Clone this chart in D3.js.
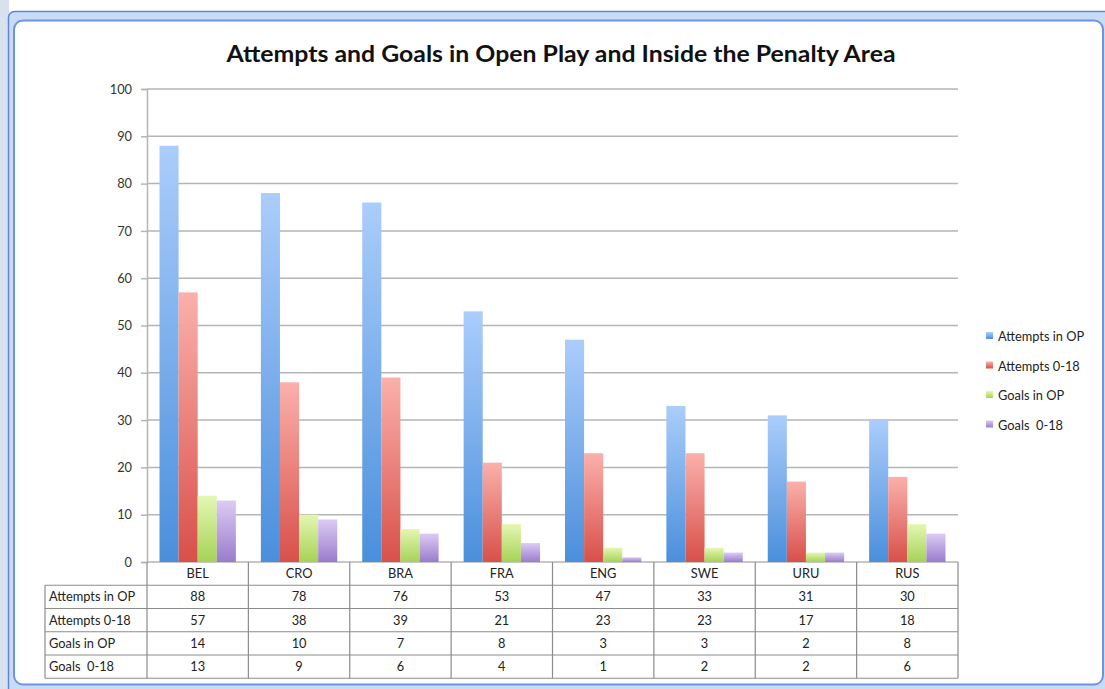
<!DOCTYPE html>
<html>
<head>
<meta charset="utf-8">
<script src="https://cdn.jsdelivr.net/npm/d3@7"></script>
<style>
  body { margin: 0; background: #fff; }
  text { font-family: Lato, "Open Sans", sans-serif; fill: #222; white-space: pre; }
</style>
</head>
<body>
<div class="chart"></div>
<script>
// data
var categories = ["BEL", "CRO", "BRA", "FRA", "ENG", "SWE", "URU", "RUS"];
var seriesNames = ["Attempts in OP", "Attempts 0-18", "Goals in OP", "Goals  0-18"];
var attemptsOP = [88, 78, 76, 53, 47, 33, 31, 30];
var attempts018 = [57, 38, 39, 21, 23, 23, 17, 18];
var goalsOP = [14, 10, 7, 8, 3, 3, 2, 8];
var goals018 = [13, 9, 6, 4, 1, 2, 2, 6];
var yTicks = [0, 10, 20, 30, 40, 50, 60, 70, 80, 90, 100];

var seriesValues = [attemptsOP, attempts018, goalsOP, goals018];
// gradient colours per series: top (light) -> bottom (dark)
var colors = [
  ["#abcdfb", "#4a8fdc"],
  ["#fbb0ab", "#d8504a"],
  ["#e4f7b2", "#a6d257"],
  ["#dccbf5", "#9a7ccb"]
];

var svgWidth = 1105, svgHeight = 689;
var plot = { left: 147, right: 958, top: 89, bottom: 562 };
var tableLeft = 45;
var rowH = 23.25;
var fs = 12.8;

var svg = d3.select(".chart").append("svg")
  .attr("width", svgWidth)
  .attr("height", svgHeight);

// spreadsheet frame behind the chart
svg.append("rect").attr("x", 0).attr("y", 0).attr("width", 9).attr("height", svgHeight).attr("fill", "#d8e2ef");
svg.append("rect")
  .attr("x", 8.5).attr("y", 11.5).attr("width", 1110).attr("height", 700)
  .attr("rx", 6)
  .attr("fill", "#c9dcf7").attr("stroke", "#5e86d8").attr("stroke-width", 1.5);
svg.append("rect")
  .attr("x", 14).attr("y", 20.5).attr("width", 1089).attr("height", 664)
  .attr("rx", 9)
  .attr("fill", "#fff").attr("stroke", "#6f93dc").attr("stroke-width", 2);

// gradients
var defs = svg.append("defs");
colors.forEach(function(c, i) {
  var g = defs.append("linearGradient")
    .attr("id", "grad" + i)
    .attr("x1", 0).attr("y1", 0).attr("x2", 0).attr("y2", 1);
  g.append("stop").attr("offset", "0%").attr("stop-color", c[0]);
  g.append("stop").attr("offset", "100%").attr("stop-color", c[1]);
});

// title
svg.append("text")
  .attr("x", 561)
  .attr("y", 62)
  .attr("text-anchor", "middle")
  .attr("font-size", 23)
  .attr("font-weight", "bold")
  .attr("textLength", 669)
  .attr("lengthAdjust", "spacingAndGlyphs")
  .style("fill", "#111")
  .text("Attempts and Goals in Open Play and Inside the Penalty Area");

// scales
var x = d3.scaleBand().domain(categories).range([plot.left, plot.right]);
var xInner = d3.scaleBand().domain(d3.range(4)).range([12.5, x.bandwidth() - 12.5]);
var y = d3.scaleLinear().domain([0, 100]).range([plot.bottom, plot.top]);

// gridlines
svg.append("g")
  .selectAll("line")
  .data(yTicks)
  .enter()
  .append("line")
  .attr("x1", plot.left).attr("x2", plot.right)
  .attr("y1", d => y(d)).attr("y2", d => y(d))
  .attr("stroke", "#b5b5b5")
  .attr("stroke-width", 1.5);

// y axis
var yAxis = svg.append("g")
  .attr("transform", `translate(${plot.left}, 0)`)
  .call(d3.axisLeft(y).tickValues(yTicks).tickSize(6).tickPadding(9));
yAxis.select(".domain").attr("stroke", "#b5b5b5").attr("stroke-width", 1.5);
yAxis.selectAll(".tick line").attr("stroke", "#b5b5b5").attr("stroke-width", 1.5);
yAxis.selectAll(".tick text")
  .attr("font-size", fs)
  .attr("font-family", "Lato, 'Open Sans', sans-serif")
  .style("fill", "#333");

// bars
var groups = svg.append("g")
  .selectAll("g")
  .data(categories)
  .enter()
  .append("g")
  .attr("transform", d => `translate(${x(d)}, 0)`);

groups.selectAll("rect")
  .data((d, ci) => seriesValues.map((s, si) => ({ si: si, v: s[ci] })))
  .enter()
  .append("rect")
  .attr("x", d => xInner(d.si))
  .attr("width", xInner.bandwidth())
  .attr("y", d => y(d.v))
  .attr("height", d => plot.bottom - y(d.v))
  .attr("fill", d => `url(#grad${d.si})`);

// data table
var table = svg.append("g");
var tableTop = plot.bottom;
var tableBottom = plot.bottom + rowH * 5;
var lineColor = "#8c8c8c";

// vertical lines at category edges
var edges = categories.map(c => x(c)).concat([plot.right]);
table.selectAll(".vline")
  .data(edges)
  .enter()
  .append("line")
  .attr("x1", d => d).attr("x2", d => d)
  .attr("y1", tableTop).attr("y2", tableBottom)
  .attr("stroke", lineColor).attr("stroke-width", 1.2);

table.append("line")
  .attr("x1", tableLeft).attr("x2", tableLeft)
  .attr("y1", tableTop + rowH).attr("y2", tableBottom)
  .attr("stroke", lineColor).attr("stroke-width", 1.2);

// horizontal lines
table.selectAll(".hline")
  .data(d3.range(1, 6))
  .enter()
  .append("line")
  .attr("x1", tableLeft).attr("x2", plot.right)
  .attr("y1", d => tableTop + rowH * d).attr("y2", d => tableTop + rowH * d)
  .attr("stroke", lineColor).attr("stroke-width", 1.2);

// header row: categories
table.selectAll(".cat")
  .data(categories)
  .enter()
  .append("text")
  .attr("x", d => x(d) + x.bandwidth() / 2)
  .attr("y", tableTop + rowH / 2 + 4.5)
  .attr("text-anchor", "middle")
  .attr("font-size", fs)
  .text(d => d);

// data rows
seriesNames.forEach(function(name, si) {
  var rowY = tableTop + rowH * (si + 1) + rowH / 2 + 4.5;
  table.append("text")
    .attr("x", tableLeft + 4)
    .attr("y", rowY)
    .attr("font-size", fs)
    .text(name);
  table.selectAll(".val" + si)
    .data(seriesValues[si])
    .enter()
    .append("text")
    .attr("x", (d, i) => x(categories[i]) + x.bandwidth() / 2)
    .attr("y", rowY)
    .attr("text-anchor", "middle")
    .attr("font-size", fs)
    .text(d => d);
});

// legend
var legend = svg.append("g")
  .selectAll("g")
  .data(seriesNames)
  .enter()
  .append("g")
  .attr("transform", (d, i) => `translate(986, ${332 + i * 29.5})`);

legend.append("rect")
  .attr("width", 7).attr("height", 7)
  .attr("fill", (d, i) => `url(#grad${i})`);

legend.append("text")
  .attr("x", 12)
  .attr("y", 9)
  .attr("font-size", fs)
  .text(d => d);
</script>
</body>
</html>
